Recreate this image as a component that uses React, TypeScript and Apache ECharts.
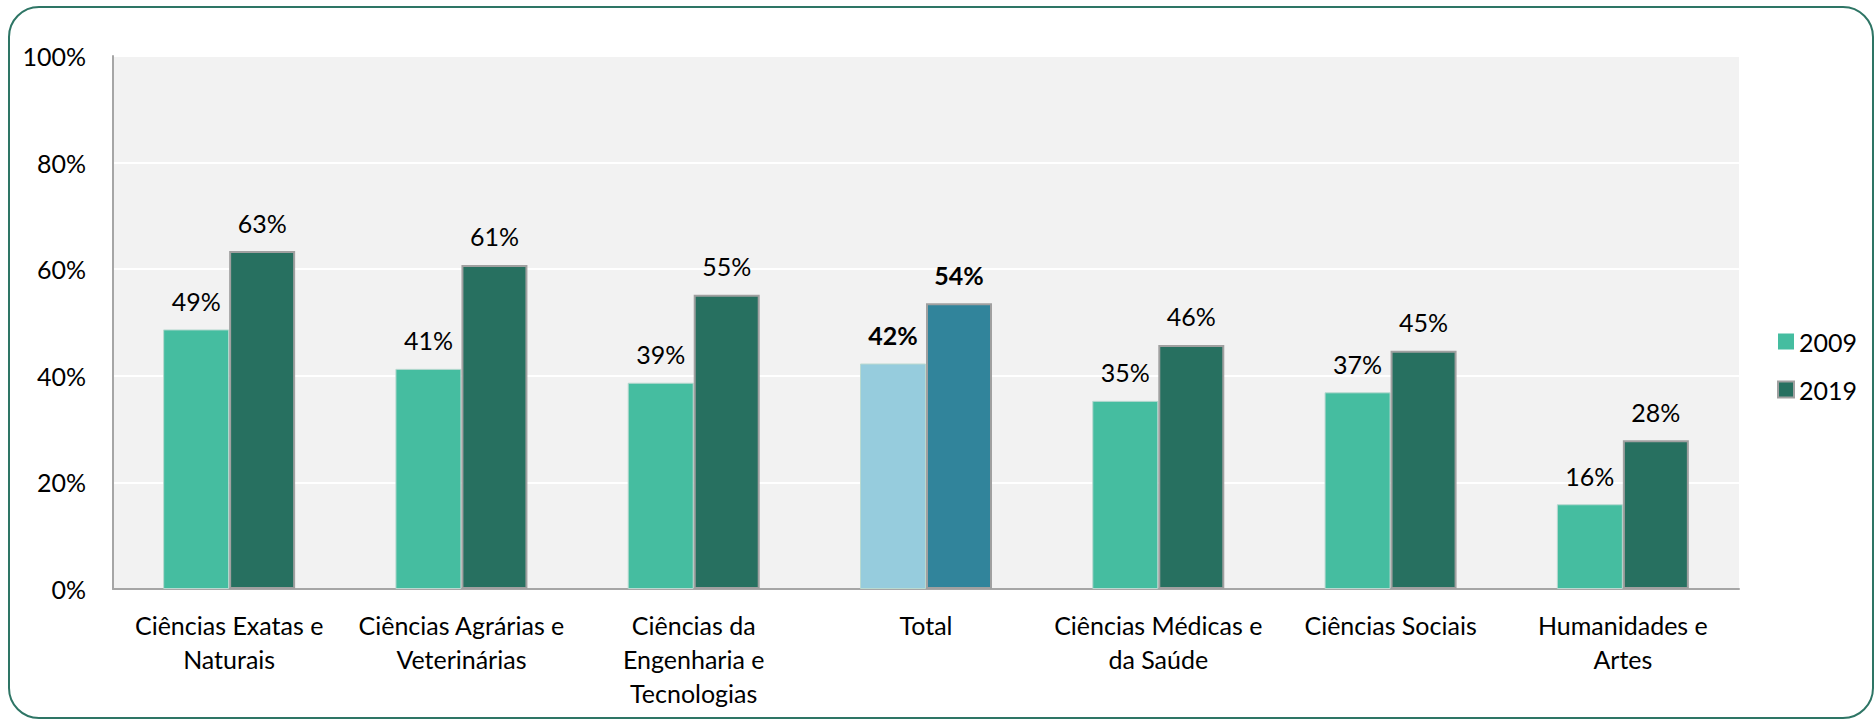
import React, { useEffect, useRef } from "react";
import * as echarts from "echarts";

const categories = [
  "Ciências Exatas e\nNaturais",
  "Ciências Agrárias e\nVeterinárias",
  "Ciências da\nEngenharia e\nTecnologias",
  "Total",
  "Ciências Médicas e\nda Saúde",
  "Ciências Sociais",
  "Humanidades e\nArtes",
];
const values2009 = [48.7, 41.3, 38.7, 42.3, 35.3, 36.9, 15.9];
const values2019 = [63.4, 60.8, 55.2, 53.6, 45.8, 44.7, 27.9];
const seriesNames = ["2009", "2019"];
const highlightIndex = 3;

const FONT = "Lato";

export default function App() {
  const ref = useRef<HTMLDivElement>(null);
  useEffect(() => {
    document.body.style.margin = "0";
    const chart = echarts.init(ref.current!, null, { renderer: "svg" });
    const mk = (vals: number[], base: string, hi: string, border: string, borderW: number) =>
      vals.map((v, i) => ({
        value: v,
        itemStyle: { color: i === highlightIndex ? hi : base, borderColor: border, borderWidth: borderW },
        label: { fontWeight: i === highlightIndex ? "bold" : "normal" },
      }));
    chart.setOption({
      animation: false,
      textStyle: { fontFamily: FONT },
      grid: {
        left: 113,
        right: 137,
        top: 56,
        height: 533,
        show: true,
        backgroundColor: "#F2F2F2",
        borderWidth: 0,
      },
      legend: {
        orient: "vertical",
        left: 1772,
        top: 324,
        itemWidth: 16,
        itemHeight: 16,
        itemGap: 23,
        icon: "rect",
        textStyle: { fontSize: 25, color: "#000", fontFamily: FONT },
        data: seriesNames,
      },
      xAxis: {
        type: "category",
        data: categories,
        axisLine: { lineStyle: { color: "#A6A6A6", width: 2 } },
        axisTick: { show: false },
        axisLabel: {
          fontSize: 25,
          color: "#000",
          margin: 19,
          lineHeight: 34,
          interval: 0,
          fontFamily: FONT,
        },
      },
      yAxis: {
        type: "value",
        min: 0,
        max: 100,
        interval: 20,
        axisLine: { show: true, lineStyle: { color: "#A6A6A6", width: 2 } },
        axisTick: { show: false },
        splitLine: { lineStyle: { color: "#FFFFFF", width: 2 } },
        axisLabel: {
          formatter: "{value}%",
          fontSize: 25,
          color: "#000",
          margin: 27,
          fontFamily: FONT,
        },
      },
      series: [
        {
          name: seriesNames[0],
          type: "bar",
          barWidth: 66,
          barGap: "0%",
          color: "#45BDA0",
          data: mk(values2009, "#45BDA0", "#96CCDD", "#B9D9D0", 1),
          label: {
            show: true,
            position: "top",
            distance: 16,
            fontSize: 25,
            color: "#000",
            fontFamily: FONT,
            formatter: (p: any) => Math.round(p.value) + "%",
          },
        },
        {
          name: seriesNames[1],
          type: "bar",
          barWidth: 66,
          barGap: "0%",
          color: "#277060",
          itemStyle: { borderColor: "#A0A0A0", borderWidth: 2 },
          data: mk(values2019, "#277060", "#31849B", "#A0A0A0", 2),
          label: {
            show: true,
            position: "top",
            distance: 16,
            fontSize: 25,
            color: "#000",
            fontFamily: FONT,
            formatter: (p: any) => Math.round(p.value) + "%",
          },
        },
      ],
      graphic: [
        {
          type: "rect",
          shape: { x: 9, y: 7, width: 1864, height: 711, r: 30 },
          style: { fill: "none", stroke: "#2E7565", lineWidth: 2 },
          silent: true,
          z: -1,
        },
      ],
    });
    return () => chart.dispose();
  }, []);
  return <div ref={ref} style={{ width: 1876, height: 720 }} />;
}
